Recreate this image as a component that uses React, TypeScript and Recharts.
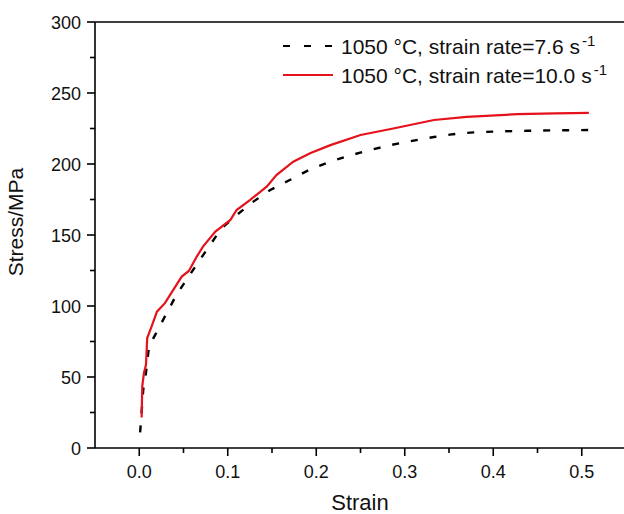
import React from 'react';
import {
  LineChart,
  Line,
  XAxis,
  YAxis,
  ReferenceLine,
} from 'recharts';

// strain rate 7.6 s-1 (dashed black)
const strainSlow = [
  0.001, 0.0045, 0.0076, 0.011, 0.018, 0.031, 0.042, 0.057, 0.071, 0.08, 0.093, 0.11, 0.129, 0.148,
  0.17, 0.193, 0.215, 0.238, 0.262, 0.284, 0.31, 0.333, 0.355, 0.378, 0.408, 0.438, 0.47, 0.508,
];
const stressSlow = [
  11, 41, 53, 71.5, 79.7, 95, 107.8, 121.9, 134.8, 143, 154.7, 164, 173.5, 181.7,
  188.7, 196.2, 201.5, 206, 210, 213.3, 216.5, 219, 221, 222.3, 223, 223.4, 223.7, 223.9,
];

// strain rate 10.0 s-1 (solid red)
const strainFast = [
  0.0027, 0.0034, 0.0053, 0.0076, 0.009, 0.014, 0.02, 0.029, 0.037, 0.048, 0.056, 0.065, 0.072, 0.086,
  0.103, 0.11, 0.125, 0.144, 0.155, 0.174, 0.193, 0.216, 0.25, 0.287, 0.333, 0.37, 0.427, 0.47, 0.508,
];
const stressFast = [
  21.5, 43.4, 52.8, 58.6, 77.4, 85.6, 96, 102, 110, 120.7, 124.7, 134.8, 141.8, 152.4,
  160.6, 167.6, 174.6, 184, 192.2, 201.6, 207.5, 213.3, 220.4, 225, 231, 233.2, 235.1, 235.6, 236,
];

const xTicks = [0, 0.05, 0.1, 0.15, 0.2, 0.25, 0.3, 0.35, 0.4, 0.45, 0.5, 0.55];
const yTicks = [0, 25, 50, 75, 100, 125, 150, 175, 200, 225, 250, 275, 300];

const seriesNames = ['1050 °C, strain rate=7.6 s', '1050 °C, strain rate=10.0 s'];

const slowData = strainSlow.map((s, i) => ({ strain: s, stress: stressSlow[i] }));
const fastData = strainFast.map((s, i) => ({ strain: s, stress: stressFast[i] }));

const RED = '#e5121b';
const FONT = 'Arial, "Liberation Sans", sans-serif';

const XTick = (props: any) => {
  const { x, y, payload } = props;
  const v = payload.value;
  const major = Math.round(v * 100) % 10 === 0;
  return (
    <g>
      <line x1={x} x2={x} y1={y} y2={y + (major ? 8 : 5)} stroke="#000" strokeWidth={1.6} />
      {major && (
        <text x={x} y={y + 30} textAnchor="middle" fontSize={18} fontFamily={FONT} fill="#111">
          {v.toFixed(1)}
        </text>
      )}
    </g>
  );
};

const YTick = (props: any) => {
  const { x, y, payload } = props;
  const v = payload.value;
  const major = v % 50 === 0;
  return (
    <g>
      <line x1={x} x2={x - (major ? 8 : 5)} y1={y} y2={y} stroke="#000" strokeWidth={1.6} />
      {major && (
        <text x={x - 14} y={y} dy={6.5} textAnchor="end" fontSize={18} fontFamily={FONT} fill="#111">
          {v}
        </text>
      )}
    </g>
  );
};

const ChartLegend = () => (
  <div style={{ position: 'absolute', left: 283, top: 31, fontFamily: FONT, fontSize: 21, color: '#111' }}>
    {seriesNames.map((name, i) => (
      <div key={name} style={{ display: 'flex', alignItems: 'center', height: 29 }}>
        <svg width={50} height={10} style={{ marginRight: 8 }}>
          <line
            x1={0}
            x2={50}
            y1={5}
            y2={5}
            stroke={i === 0 ? '#000' : RED}
            strokeWidth={2.2}
            strokeDasharray={i === 0 ? '7 14' : undefined}
          />
        </svg>
        <span style={{ whiteSpace: 'nowrap' }}>
          {name}
          <sup style={{ fontSize: 15, marginLeft: 2 }}>-1</sup>
        </span>
      </div>
    ))}
  </div>
);

export default function App() {
  return (
    <div style={{ position: 'absolute', left: 0, top: 0, width: 624, height: 514, overflow: 'hidden', background: '#fff' }}>
      <LineChart width={626} height={514} margin={{ top: 22, right: 0, left: 0, bottom: 0 }}>
        <XAxis
          dataKey="strain"
          type="number"
          domain={[-0.05, 0.55]}
          ticks={xTicks}
          interval={0}
          height={66}
          tickSize={0}
          tickMargin={0}
          tickLine={false}
          tick={<XTick />}
          axisLine={{ stroke: '#000', strokeWidth: 1.6 }}
          allowDataOverflow
          label={{
            content: () => (
              <text x={360} y={510} textAnchor="middle" fontSize={22} fontFamily={FONT} fill="#111">
                Strain
              </text>
            ),
          }}
        />
        <YAxis
          dataKey="stress"
          type="number"
          domain={[0, 300]}
          ticks={yTicks}
          interval={0}
          width={95}
          tickSize={0}
          tickMargin={0}
          tickLine={false}
          tick={<YTick />}
          axisLine={{ stroke: '#000', strokeWidth: 1.6 }}
          label={{
            content: () => (
              <text
                x={23}
                y={222}
                transform="rotate(-90 23 222)"
                textAnchor="middle"
                fontSize={21}
                fontFamily={FONT}
                fill="#111"
              >
                Stress/MPa
              </text>
            ),
          }}
        />
        <ReferenceLine y={300} stroke="#000" strokeWidth={1.6} />
        <Line
          data={slowData}
          dataKey="stress"
          type="linear"
          stroke="#000"
          strokeWidth={2.4}
          strokeDasharray="7 12"
          dot={false}
          isAnimationActive={false}
        />
        <Line
          data={fastData}
          dataKey="stress"
          type="linear"
          stroke={RED}
          strokeWidth={2.2}
          dot={false}
          isAnimationActive={false}
        />
      </LineChart>
      <ChartLegend />
    </div>
  );
}
